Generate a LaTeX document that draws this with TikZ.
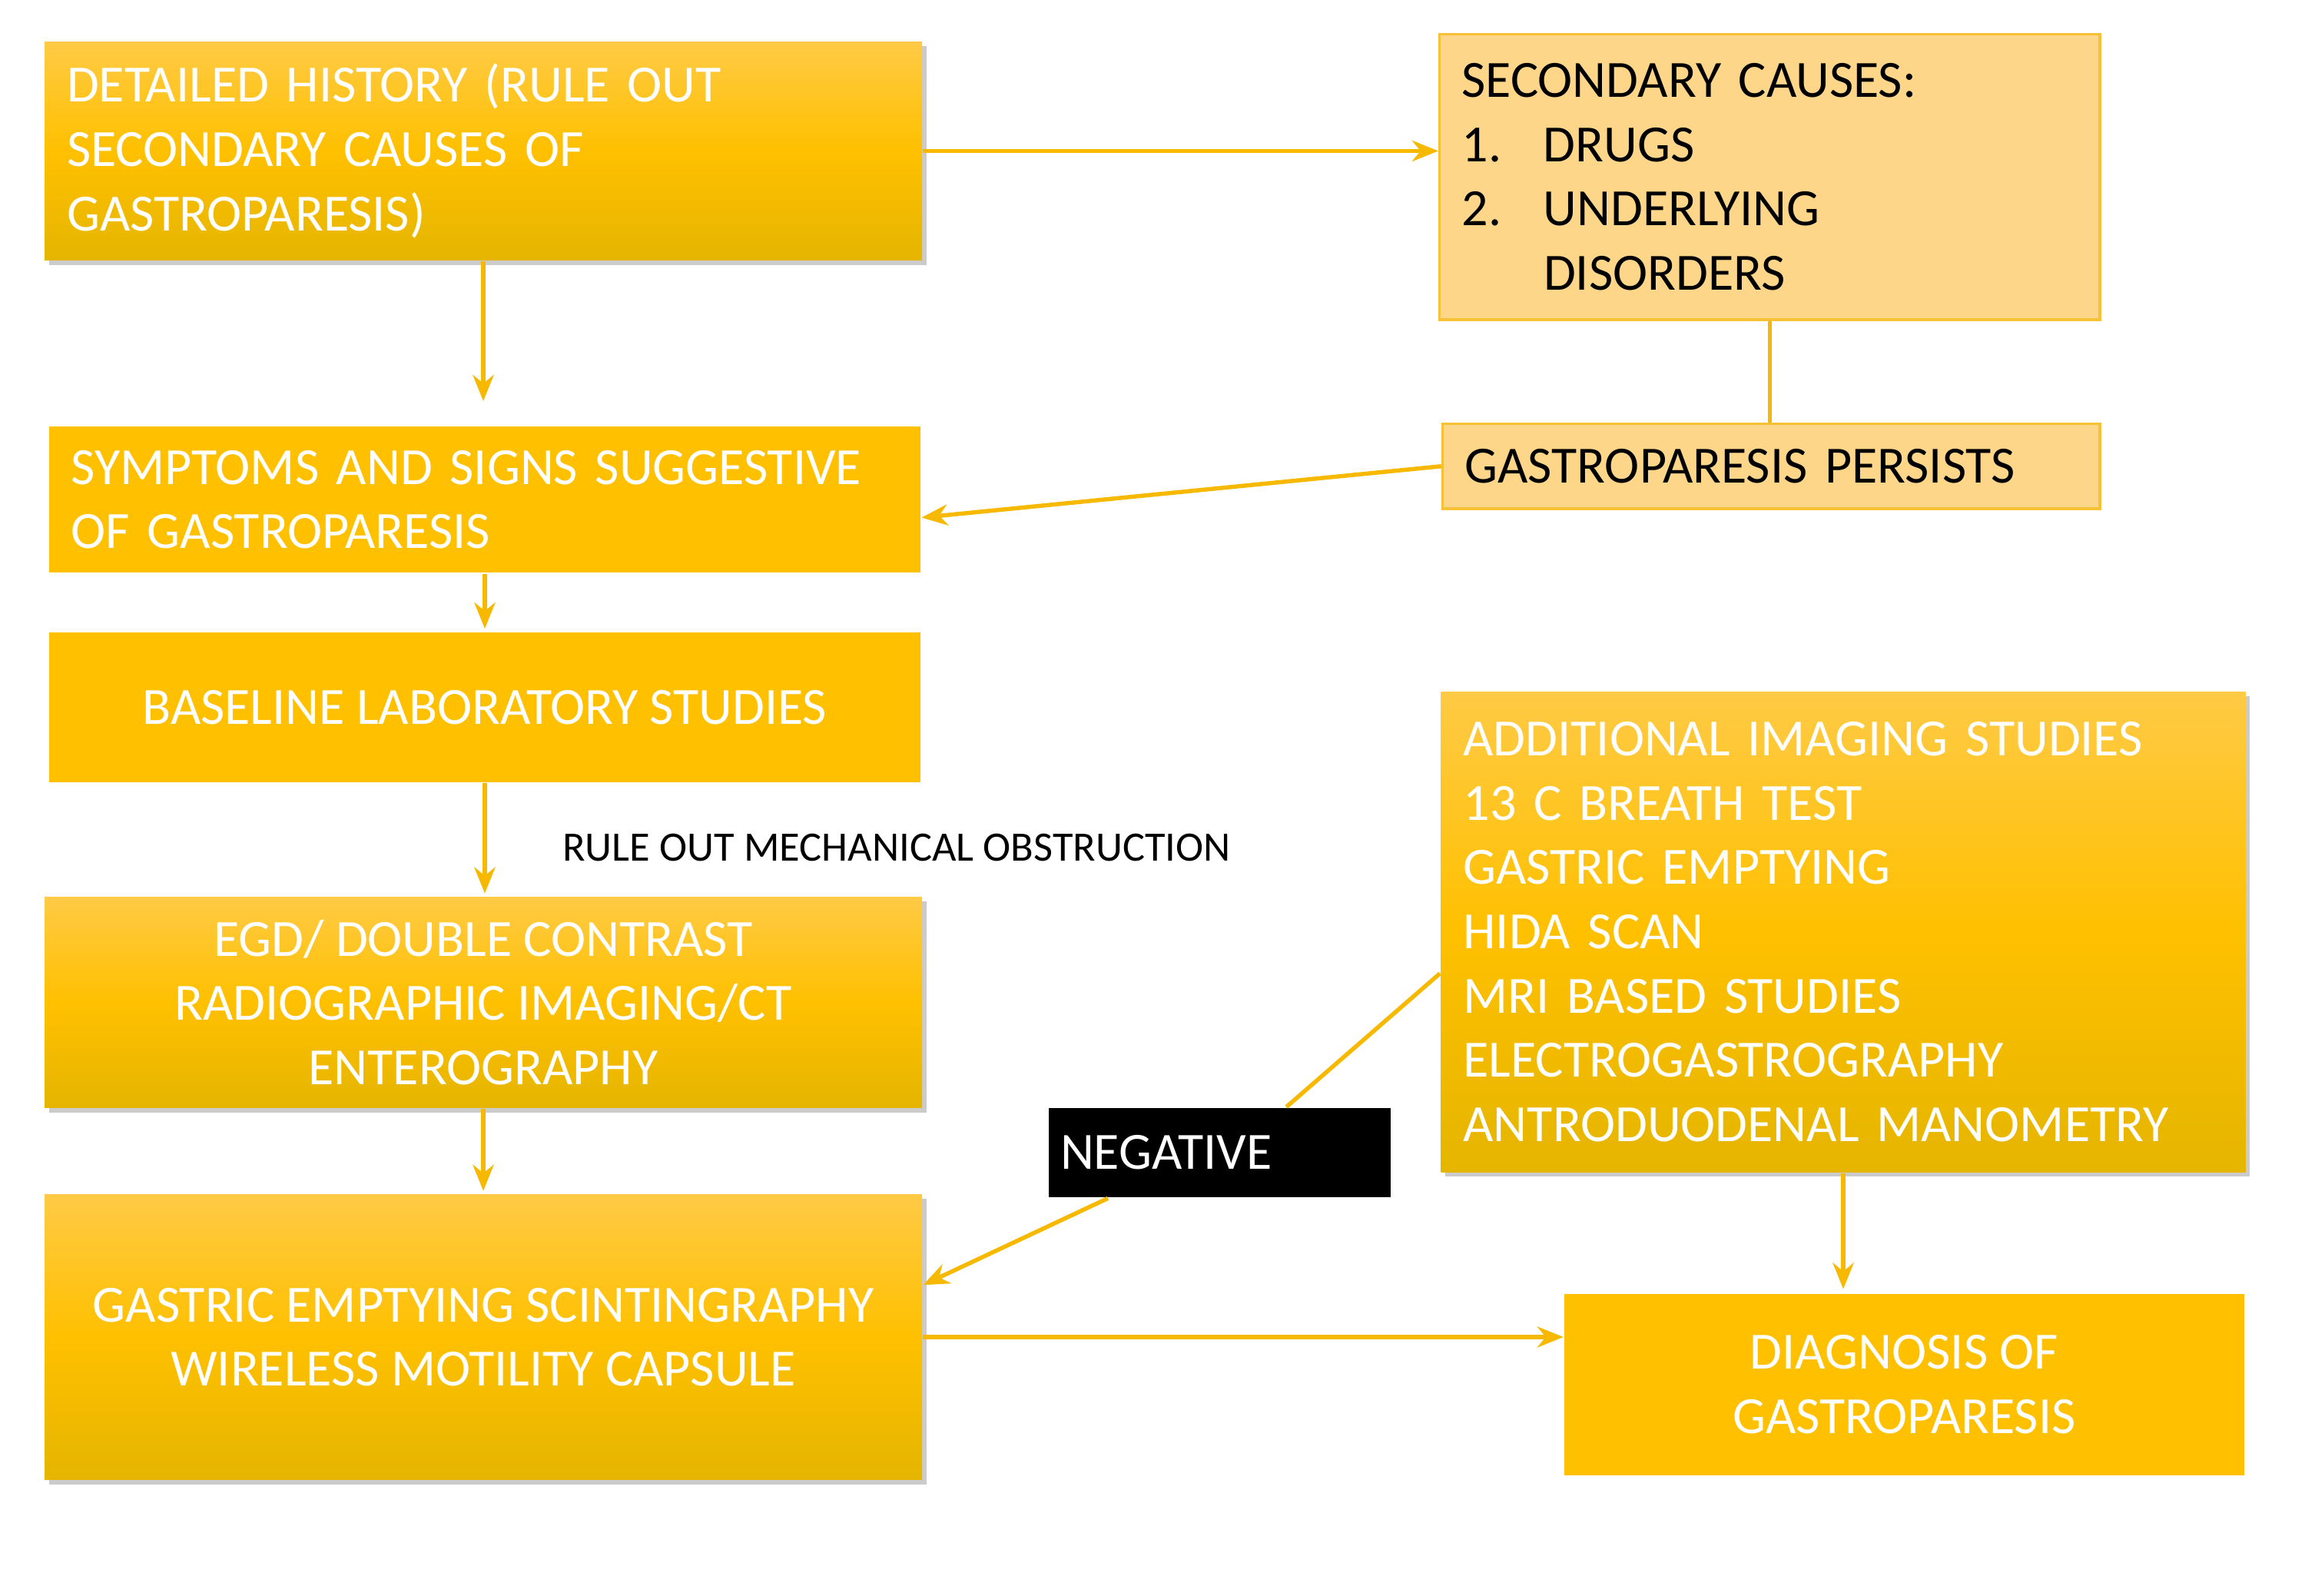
\documentclass[tikz,border=0pt]{standalone}
\usepackage{fontspec}
\setmainfont{Carlito}
\usetikzlibrary{arrows.meta,positioning,shadows}
\definecolor{gold}{HTML}{FFC000}
\definecolor{goldtop}{HTML}{FFCA45}
\definecolor{goldbot}{HTML}{E5B500}
\definecolor{pale}{HTML}{FDD68A}
\definecolor{paleline}{HTML}{F7C136}
\definecolor{wire}{HTML}{F7B800}
\tikzset{
  box/.style={rectangle, inner sep=0pt, font=\fontsize{10}{12.3}\selectfont, text=white},
  grad/.style={box, top color=goldtop, bottom color=goldbot, middle color=gold,
    drop shadow={shadow xshift=0.03cm, shadow yshift=-0.03cm, fill=black!45, opacity=0.45}},
  flat/.style={box, fill=gold},
  light/.style={box, fill=pale, draw=paleline, line width=0.5pt, text=black},
  link/.style={draw=wire, line width=0.8pt},
  arr/.style={link, -{Stealth[length=5pt,width=4pt]}}
}
\begin{document}
\begin{tikzpicture}
\useasboundingbox (0,0) rectangle (15.5,10.73);
% left column
\node[grad, minimum width=5.9cm, minimum height=1.47cm, text width=5.6cm, align=left] (hist) at (3.25,9.715)
  {DETAILED HISTORY (RULE OUT\\SECONDARY CAUSES OF\\GASTROPARESIS)};
\node[flat, minimum width=5.86cm, minimum height=0.98cm, text width=5.56cm, align=left] (sympt) at (3.26,7.37)
  {SYMPTOMS AND SIGNS SUGGESTIVE\\OF GASTROPARESIS};
\node[flat, minimum width=5.86cm, minimum height=1.01cm, align=center] (lab) at (3.26,5.975)
  {BASELINE LABORATORY STUDIES};
\node[grad, minimum width=5.9cm, minimum height=1.42cm, align=center] (egd) at (3.25,3.99)
  {EGD/ DOUBLE CONTRAST\\RADIOGRAPHIC IMAGING/CT\\ENTEROGRAPHY};
\node[grad, minimum width=5.9cm, minimum height=1.92cm, align=center] (scint) at (3.25,1.74)
  {GASTRIC EMPTYING SCINTINGRAPHY\\WIRELESS MOTILITY CAPSULE};
% right column
\node[light, minimum width=4.44cm, minimum height=1.92cm, text width=4.14cm, align=left] (sec) at (11.9,9.54)
  {SECONDARY CAUSES:\\\makebox[0.55cm][l]{1.}DRUGS\\\makebox[0.55cm][l]{2.}UNDERLYING\\\hspace*{0.55cm}DISORDERS};
\node[light, minimum width=4.42cm, minimum height=0.57cm, text width=4.12cm, align=left] (pers) at (11.91,7.595)
  {GASTROPARESIS PERSISTS};
\node[grad, minimum width=5.41cm, minimum height=3.23cm, text width=5.11cm, align=left] (img) at (12.395,4.465)
  {ADDITIONAL IMAGING STUDIES\\13 C BREATH TEST\\GASTRIC EMPTYING\\HIDA SCAN\\MRI BASED STUDIES\\ELECTROGASTROGRAPHY\\ANTRODUODENAL MANOMETRY};
\node[flat, minimum width=4.57cm, minimum height=1.22cm, align=center] (diag) at (12.805,1.42)
  {DIAGNOSIS OF\\GASTROPARESIS};
\node[box, fill=black, minimum width=2.3cm, minimum height=0.6cm, text width=2.14cm, align=left] (neg) at (8.2,2.98)
  {NEGATIVE};
\node[font=\fontsize{8}{9}\selectfont, anchor=west] (mech) at (3.66,5.03) {RULE OUT MECHANICAL OBSTRUCTION};
% connectors
\draw[arr] (hist.south) -- ++(0,-0.94);
\draw[arr] (hist.east) -- (sec.west |- hist.east);
\draw[link] (sec.south) -- (pers.north -| sec.south);
\draw[arr] (pers.west) -- ([yshift=-0.12cm]sympt.east);
\draw[arr] (sympt.south) -- ++(0,-0.37);
\draw[arr] (lab.south) -- ++(0,-0.74);
\draw[arr] (egd.south) -- ++(0,-0.55);
\draw[link] ([yshift=-0.28cm]img.west) -- ([xshift=0.45cm]neg.north);
\draw[arr] ([xshift=-0.75cm]neg.south) -- ([yshift=0.35cm]scint.east);
\draw[arr] (scint.east) -- (scint.east -| diag.west);
\draw[arr] (img.south) -- ++(0,-0.78);
\end{tikzpicture}
\end{document}
